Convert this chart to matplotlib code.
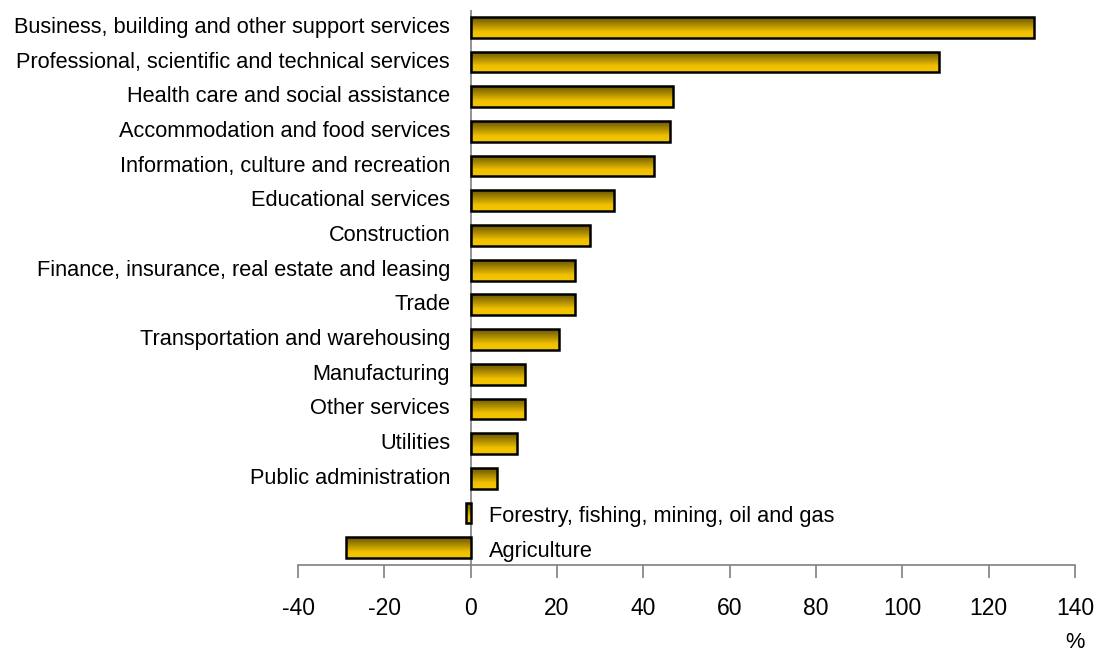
import numpy as np
import matplotlib
matplotlib.use("Agg")
import matplotlib.pyplot as plt
from matplotlib.colors import LinearSegmentedColormap

plt.rcParams['font.family'] = ['Liberation Sans', 'DejaVu Sans']

categories = [
    "Business, building and other support services",
    "Professional, scientific and technical services",
    "Health care and social assistance",
    "Accommodation and food services",
    "Information, culture and recreation",
    "Educational services",
    "Construction",
    "Finance, insurance, real estate and leasing",
    "Trade",
    "Transportation and warehousing",
    "Manufacturing",
    "Other services",
    "Utilities",
    "Public administration",
    "Forestry, fishing, mining, oil and gas",
    "Agriculture",
]
values = [130.4, 108.4, 46.8, 46.1, 42.4, 33.1, 27.6, 24.1, 24.1, 20.4,
          12.5, 12.5, 10.7, 6.0, -1.2, -29.0]
xticks = [-40, -20, 0, 20, 40, 60, 80, 100, 120, 140]

fig = plt.figure(figsize=(10.97, 6.52), dpi=100)
ax = fig.add_axes([0.2717, 0.1334, 0.7083, 0.8513])

ypos = np.arange(len(categories))
bars = ax.barh(ypos, values, height=0.6, facecolor="none",
               edgecolor="black", linewidth=1.8, zorder=3)

# vertical gold gradient inside each bar
cmap = LinearSegmentedColormap.from_list(
    "gold", [(0.0, "#6a5400"), (0.35, "#a88800"), (0.7, "#efbf00"), (1.0, "#f5c600")])
grad = np.linspace(0, 1, 256).reshape(-1, 1)
for b in bars:
    x0, y0 = b.get_x(), b.get_y()
    w, h = b.get_width(), b.get_height()
    # y axis is inverted: the visual top is y0 (smaller value)
    im = ax.imshow(grad, cmap=cmap, aspect="auto", origin="upper",
                   extent=(x0, x0 + w, y0 + h, y0), zorder=2,
                   interpolation="bilinear")
    im.set_clip_path(b)

ax.set_xlim(-40, 140)
ax.set_ylim(15.5, -0.5)

# zero line
ax.axvline(0, color="#808080", linewidth=1.2, zorder=1)

for s in ["top", "right", "left"]:
    ax.spines[s].set_visible(False)
ax.spines["bottom"].set_color("#808080")
ax.spines["bottom"].set_linewidth(1.2)

ax.set_xticks(xticks)
ax.set_xticklabels([str(t) for t in xticks], fontsize=16.5)
ax.tick_params(axis="x", direction="out", length=9, width=1.2,
               color="#808080", pad=14)

# category labels: left of zero line for positives, right of it for negatives
ax.set_yticks([])
for y, (cat, v) in enumerate(zip(categories, values)):
    if v >= 0:
        ax.text(-4.8, y, cat, ha="right", va="center", fontsize=15.7)
    else:
        ax.text(4.2, y + 0.1, cat, ha="left", va="center", fontsize=15.7)

fig.text(1075 / 1097, 1 - 642 / 652, "%", ha="center", va="center", fontsize=15.7)

fig.savefig("out.png", dpi=100, facecolor="white")
